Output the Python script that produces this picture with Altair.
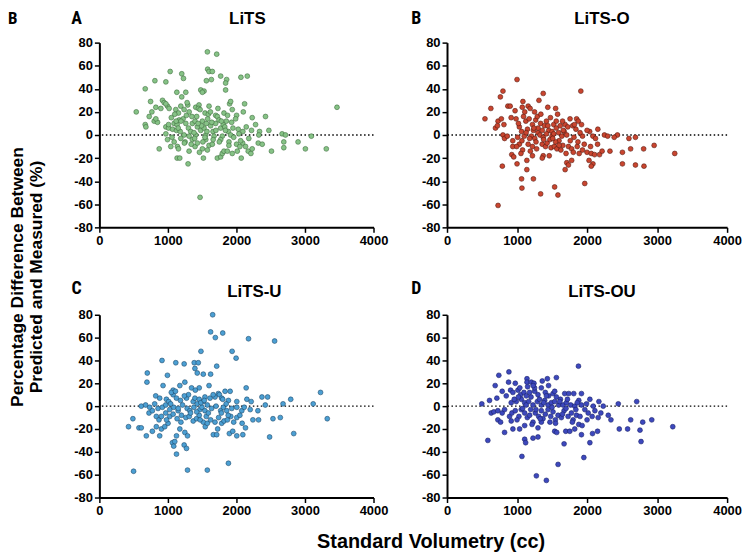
import altair as alt
import pandas as pd

panel_titles = ["LiTS", "LiTS-O", "LiTS-U", "LiTS-OU"]
panel_letters = ["A", "B", "C", "D"]
corner_glyph = "B"
x_title = "Standard Volumetry (cc)"
y_title_lines = ["Percentage Difference Between", "Predicted and  Measured (%)"]
x_ticks = [0, 1000, 2000, 3000, 4000]
y_ticks = [-80, -60, -40, -20, 0, 20, 40, 60, 80]

# ---- Panel A: LiTS ----
lits_x = [
    1576, 1712, 1580, 1600, 1648, 1033, 1202, 1227, 1770, 1561,
    1634, 1857, 1842, 2065, 2158, 810, 970, 669, 1130, 1261,
    1202, 1479, 1527, 1503, 1842, 747, 921, 946, 994, 970,
    824, 766, 538, 897, 1018, 1115, 1188, 1154, 1236, 1290,
    1406, 1454, 1445, 1600, 1542, 1697, 1721, 1818, 1900, 1915,
    1939, 2119, 2100, 2002, 2230, 2424, 3467, 727, 669, 679,
    800, 848, 824, 970, 1009, 1067, 1091, 1134, 1125, 1164,
    1222, 1261, 1300, 1333, 1357, 1396, 1430, 1479, 1503, 1527,
    1561, 1580, 1624, 1658, 1697, 1745, 1770, 1808, 1852, 1881,
    1949, 1988, 2026, 2094, 2143, 2220, 2279, 2337, 2473, 2666,
    2715, 3093, 970, 1236, 1309, 1406, 1552, 1673, 1794, 1915,
    2036, 2327, 873, 1042, 1139, 1154, 1134, 1173, 1294, 1309,
    1251, 1357, 1396, 1430, 1503, 1518, 1552, 1600, 1648, 1576,
    1721, 1770, 1794, 1818, 1867, 1939, 2012, 2002, 2070, 2090,
    2133, 2172, 2211, 2230, 2318, 2376, 2511, 2691, 2691, 2899,
    3006, 3311, 1469, 994, 1091, 1188, 1770, 1891, 2061,
    1050, 1120, 1180, 1270, 1340, 1420, 1490, 1540, 1590, 1640,
    1700, 1750, 1830, 1870, 1960, 2050, 2180, 1280, 1380, 1460,
    1010, 1060, 1100, 1150, 1190, 1240, 1310, 1350, 1390, 1440,
    1470, 1510, 1570, 1620, 1660, 1730, 1780, 1840, 1890, 1930,
]
lits_y = [
    72, 70, 57, 55, 55, 55, 53, 49, 51, 47,
    48, 48, 45, 50, 51, 47, 46, 40, 37, 37,
    33, 39, 38, 37, 39, 29, 30, 28, 25, 27,
    24, 20, 20, 23, 23, 22, 25, 19, 22, 26,
    24, 26, 23, 25, 19, 17, 16, 19, 27, 29,
    22, 27, 20, 17, 15, 16, 24, 16, 9, 7,
    12, 11, 14, 7, 6, 5, 10, 9, 4, 13,
    14, 10, 6, 3, 10, 12, 7, 4, 12, 6,
    10, 14, 8, 3, 10, 13, 6, 9, 12, 3,
    6, 14, 5, 3, 7, 4, 9, 3, 4, 1,
    0, -1, 1, 0, -1, 0, 0, -1, -1, 0,
    1, 0, -12, -10, -10, -12, -20, -20, -25, -14,
    -6, -4, -10, -7, -12, -20, -4, -9, -8, -13,
    -20, -19, -16, -14, -14, -16, -14, -8, -20, -7,
    -10, -14, -16, -12, -7, -8, -14, -6, -11, -6,
    -12, -12, -54, -4, -6, -3, -4, -6, -5,
    15, 12, 3, 17, -8, 16, 8, -2, 18, 11,
    4, -6, 7, 17, -2, -10, -3, 28, 2, -15,
    9, -2, 18, 6, 12, -7, 20, 16, -3, 10,
    22, -6, 3, 20, -4, 23, 12, 4, -9, 11,
]

# ---- Panel B: LiTS-O ----
litso_x = [
    1000, 799, 762, 626, 542, 869, 902, 1084, 1159, 1187,
    1313, 1374, 1439, 1551, 1579, 1911, 972, 1075, 986, 729,
    776, 692, 720, 813, 916, 1093, 1126, 1173, 1220, 1267,
    1290, 1337, 1393, 1477, 1524, 1561, 1617, 1687, 1757, 1851,
    1874, 1921, 1795, 1725, 2154, 2037, 1033, 1065, 1149, 1234,
    1299, 1360, 1453, 1500, 1594, 1673, 1841, 2000, 2248, 2434,
    2598, 2691, 799, 822, 860, 939, 1009, 1103, 1206, 1253,
    1327, 1374, 1421, 1500, 1524, 1640, 1710, 1813, 1935, 2084,
    2121, 2294, 2388, 1033, 939, 995, 1079, 1159, 1220, 1271,
    1360, 1407, 1430, 1486, 1533, 1570, 1626, 1654, 1734, 1780,
    1804, 1860, 1888, 1935, 2000, 2060, 2107, 2178, 2215, 2327,
    2505, 2622, 2808, 2958, 3252, 925, 953, 1056, 1140, 1220,
    1374, 1360, 1600, 1710, 1734, 1780, 1687, 2084, 2060, 2028,
    2505, 2691, 2813, 790, 1000, 1140, 1234, 1065, 1070, 1337,
    1537, 1584, 1967, 729,
    1110, 1250, 1420, 1470, 1650, 1900, 1180, 1300, 1550, 2150,
    1020, 1070, 1130, 1190, 1240, 1280, 1340, 1380, 1440, 1460,
    1510, 1560, 1600, 1660, 1700, 1760, 1820, 1870, 1960, 2050,
]
litso_y = [
    48, 38, 33, 23, 14, 25, 25, 29, 25, 23,
    30, 36, 24, 23, 18, 38, 21, 24, 14, 12,
    14, 6, 8, 9, 15, 16, 12, 14, 9, 13,
    16, 10, 8, 15, 9, 6, 8, 9, 14, 14,
    12, 9, 8, 7, 5, 3, 7, 3, 5, 4,
    2, 4, 4, 3, 2, 3, 5, 4, 0, 0,
    -3, -2, 0, -3, -1, -5, -2, -1, -1, -3,
    0, -2, 1, -1, 1, -1, 0, -2, -1, -1,
    -3, -1, -2, -8, -10, -10, -13, -8, -10, -6,
    -8, -10, -7, -11, -10, -12, -13, -9, -10, -12,
    -15, -10, -16, -13, -15, -16, -17, -17, -14, -14,
    -15, -12, -12, -9, -16, -17, -19, -16, -22, -18,
    -18, -20, -5, -24, -26, -22, -30, -25, -27, -22,
    -25, -26, -27, -27, -25, -30, -38, -38, -46, -51,
    -45, -52, -42, -61,
    20, 20, 12, -4, 12, 2, -3, 6, -6, -8,
    10, -5, 2, -14, 6, -12, 18, -4, 8, -18,
    -3, 12, -9, 4, -16, -5, 9, -6, -8, -10,
]

# ---- Panel C: LiTS-U ----
litsu_x = [
    1653, 1623, 1692, 1800, 2176, 2557, 1482, 1937, 1995, 914,
    1115, 1237, 1384, 1443, 1394, 1428, 1712, 1516, 1623, 699,
    694, 993, 929, 1174, 1247, 1345, 1457, 1076, 2142, 1908,
    1834, 1736, 1751, 3227, 2792, 2372, 2455, 822, 880, 978,
    1012, 1076, 1125, 1183, 1271, 1369, 1394, 1457, 1516, 1540,
    1614, 1687, 1785, 1883, 2005, 2152, 2215, 2680, 3120, 2421,
    611, 675, 734, 807, 856, 919, 968, 1027, 1085, 1149,
    1213, 1281, 1320, 1379, 1428, 1467, 1496, 1540, 1575, 1638,
    1702, 1770, 1809, 1858, 1932, 2005, 2078, 2113, 2201, 2313,
    724, 773, 831, 870, 905, 968, 1027, 1076, 1134, 1198,
    1262, 1311, 1369, 1418, 1457, 1516, 1545, 1575, 1623, 1687,
    1726, 1785, 1819, 1868, 1917, 2005, 2083, 2132, 2240, 2323,
    2533, 2640, 3325, 425, 489, 577, 611, 685, 773, 831,
    880, 905, 954, 1002, 1066, 1085, 1100, 1125, 1174, 1237,
    1271, 1247, 1286, 1125, 1663, 1712, 1897, 1946, 2005, 2093,
    2484, 2836, 499, 1286, 1575, 1883,
    1050, 1150, 1300, 1480, 1560, 1600, 1780, 1850, 2050, 1420,
    980, 1040, 1110, 1190, 1240, 1330, 1400, 1470, 1530, 1590,
    1660, 1740, 1800, 1880, 1960,
]
litsu_y = [
    80, 65, 60, 64, 59, 57, 48, 48, 42, 40,
    38, 37, 38, 38, 33, 29, 35, 28, 28, 29,
    21, 27, 18, 18, 21, 16, 16, 14, 16, 13,
    13, 11, 10, 12, 6, 8, 8, 9, 7, 6,
    4, 10, 7, 5, 7, 4, 7, 6, 4, 8,
    7, 8, 7, 5, 4, 6, 4, 2, 2, 1,
    0, 1, -1, 2, -2, -1, 1, -3, -1, -4,
    1, -2, -4, -1, 2, -3, -1, -4, 1, -2,
    0, -4, -1, -4, -2, -1, -4, -1, -3, -4,
    -6, -4, -9, -12, -9, -6, -9, -7, -11, -8,
    -10, -9, -13, -11, -8, -14, -18, -15, -12, -14,
    -20, -15, -13, -12, -9, -10, -15, -19, -12, -12,
    -11, -10, -11, -18, -11, -19, -19, -26, -22, -18,
    -26, -20, -18, -15, -32, -35, -31, -26, -20, -34,
    -37, -23, -26, -42, -25, -25, -24, -22, -26, -25,
    -27, -24, -57, -56, -56, -50,
    12, -2, 10, 3, -9, 18, -6, 2, -8, -5,
    -12, 2, 13, -14, 9, -6, 14, -12, 5, -6,
    10, -10, 6, -8, -14,
]

# ---- Panel D: LiTS-OU ----
litsou_x = [
    1877, 884, 740, 1433, 1562, 1142, 1142, 1204, 1242, 1151,
    879, 975, 688, 788, 908, 941, 1013, 1051, 1099, 1132,
    1180, 1252, 1299, 1347, 1404, 1452, 1514, 1562, 1538, 1681,
    1739, 1810, 1920, 1882, 2040, 2169, 2446, 2709, 712, 846,
    607, 497, 917, 989, 1061, 1109, 1166, 1228, 1290, 1347,
    1395, 1443, 1490, 1538, 1595, 1657, 1705, 1767, 1824, 1920,
    1992, 2088, 2231, 631, 669, 726, 788, 822, 893, 927,
    975, 1027, 1061, 1109, 1147, 1195, 1228, 1261, 1309, 1347,
    1371, 1404, 1443, 1481, 1514, 1548, 1586, 1633, 1672, 1729,
    1777, 1801, 1849, 1882, 1930, 1968, 2016, 2073, 2112, 2159,
    2197, 2303, 2341, 2623, 2795, 2924, 3224, 726, 765, 917,
    941, 1037, 1109, 1214, 1299, 1347, 1538, 1567, 1696, 1753,
    1824, 1920, 2040, 2078, 2150, 2460, 2579, 2756, 2771, 822,
    583, 1109, 1123, 1228, 1299, 1672, 1070, 1586, 1954, 1276,
    1419,
    1020, 1180, 1320, 1470, 1620, 1700, 1860, 2000, 1250, 1450,
    960, 1000, 1080, 1130, 1200, 1270, 1330, 1380, 1420, 1500,
    1550, 1610, 1650, 1720, 1790, 1840, 1900, 1040, 1230, 1360,
]
litsou_y = [
    35, 30, 27, 24, 25, 24, 21, 21, 20, 17,
    21, 20, 18, 13, 14, 12, 14, 10, 12, 9,
    12, 13, 10, 16, 12, 9, 11, 8, 13, 11,
    11, 11, 11, 5, 6, 4, 2, 4, 7, 9,
    5, 2, 3, 4, 6, 3, 4, 1, 4, 1,
    5, 1, 3, 4, 1, 1, 3, 1, 0, 1,
    2, 0, 0, -6, -5, -4, -6, -3, -9, -6,
    -4, -9, -3, -6, -10, -3, -14, -6, -9, -4,
    -11, -7, -3, -9, -5, -12, -8, -10, -4, -9,
    -6, -12, -8, -16, -17, -3, -6, -9, -4, -10,
    -6, -8, -12, -12, -14, -12, -18, -12, -14, -13,
    -20, -20, -17, -16, -19, -14, -22, -23, -22, -22,
    -20, -25, -32, -24, -22, -20, -20, -21, -31, -23,
    -30, -29, -32, -28, -27, -33, -44, -51, -45, -61,
    -65,
    8, -8, 6, -14, 6, -2, 3, -12, 16, 18,
    6, -12, -2, 1, 8, -3, -11, 3, 9, -1,
    -15, 4, -7, 6, -14, -3, -9, 16, 18, 22,
]

FONT = "Liberation Sans, Arial, Helvetica, sans-serif"
NARROW = "Liberation Sans Narrow, Roboto Condensed, DejaVu Sans Condensed, sans-serif"


def text_layer(s, x, y, size, font=FONT, align="center", baseline="alphabetic", angle=None):
    kw = dict(align=align, baseline=baseline, font=font, fontSize=size,
              fontWeight="bold", color="black")
    if angle is not None:
        kw["angle"] = angle
    return alt.Chart(pd.DataFrame({"t": [s]})).mark_text(**kw).encode(
        text="t:N", x=alt.value(x), y=alt.value(y))


def panel(xs, ys, fill, edge, w, h, extras):
    df = pd.DataFrame({"sv": xs, "pd": ys})
    common = dict(grid=False, title=None, domainColor="black", domainWidth=2,
                  tickColor="black", tickWidth=1.5, tickSize=5, labelFont=FONT,
                  labelFontSize=13, labelFontWeight="bold", labelColor="black",
                  labelExpr="'' + datum.value", labelPadding=2,
                  labelOverlap=False, labelFlush=False)
    xenc = alt.X("sv:Q", scale=alt.Scale(domain=[0, 4000], nice=False),
                 axis=alt.Axis(values=x_ticks, tickCount=len(x_ticks), **common))
    yenc = alt.Y("pd:Q", scale=alt.Scale(domain=[-80, 80], nice=False),
                 axis=alt.Axis(values=y_ticks, tickCount=len(y_ticks), **common))
    zero = alt.Chart(pd.DataFrame({"z": [0]})).mark_rule(
        color="black", strokeDash=[1.5, 2.5], strokeWidth=1.3).encode(y=alt.datum(0))
    pts = alt.Chart(df).mark_circle(size=24, fill=fill, stroke=edge, strokeWidth=0.6,
                                    opacity=1).encode(x=xenc, y=yenc)
    return alt.layer(zero, pts, *extras).properties(width=w, height=h)


A = panel(lits_x, lits_y, "#86c286", "#3f6f3f", 276, 186, [
    text_layer(corner_glyph, -92, -19, 17, font=NARROW, align="left"),
    text_layer(panel_letters[0], -23, -19, 18, font=NARROW),
    text_layer(panel_titles[0], 149, -19, 17),
    text_layer(y_title_lines[0], -82, 236, 17.5, baseline="middle", angle=270),
    text_layer(y_title_lines[1], -63, 236, 17.5, baseline="middle", angle=270),
])
B = panel(litso_x, litso_y, "#c9452f", "#5a1a10", 282, 186, [
    text_layer(panel_letters[1], -31, -19, 18, font=NARROW),
    text_layer(panel_titles[1], 156, -19, 17),
])
C = panel(litsu_x, litsu_y, "#4b9fd3", "#1d4a6c", 276, 184, [
    text_layer(panel_letters[2], -23, -21, 18, font=NARROW),
    text_layer(panel_titles[2], 156, -18, 17),
    text_layer(x_title, 334, 235, 20),
])
D = panel(litsou_x, litsou_y, "#3d48bd", "#1a216b", 282, 184, [
    text_layer(panel_letters[3], -31, -21, 18, font=NARROW),
    text_layer(panel_titles[3], 156, -18, 17),
])

chart = alt.concat(
    A, B, C, D, columns=2, spacing={"row": 88, "column": 74}, bounds="flush"
).properties(padding=0, background="white").configure_view(stroke=None)

chart.save("out.html", embed_options={"renderer": "svg", "actions": False})
